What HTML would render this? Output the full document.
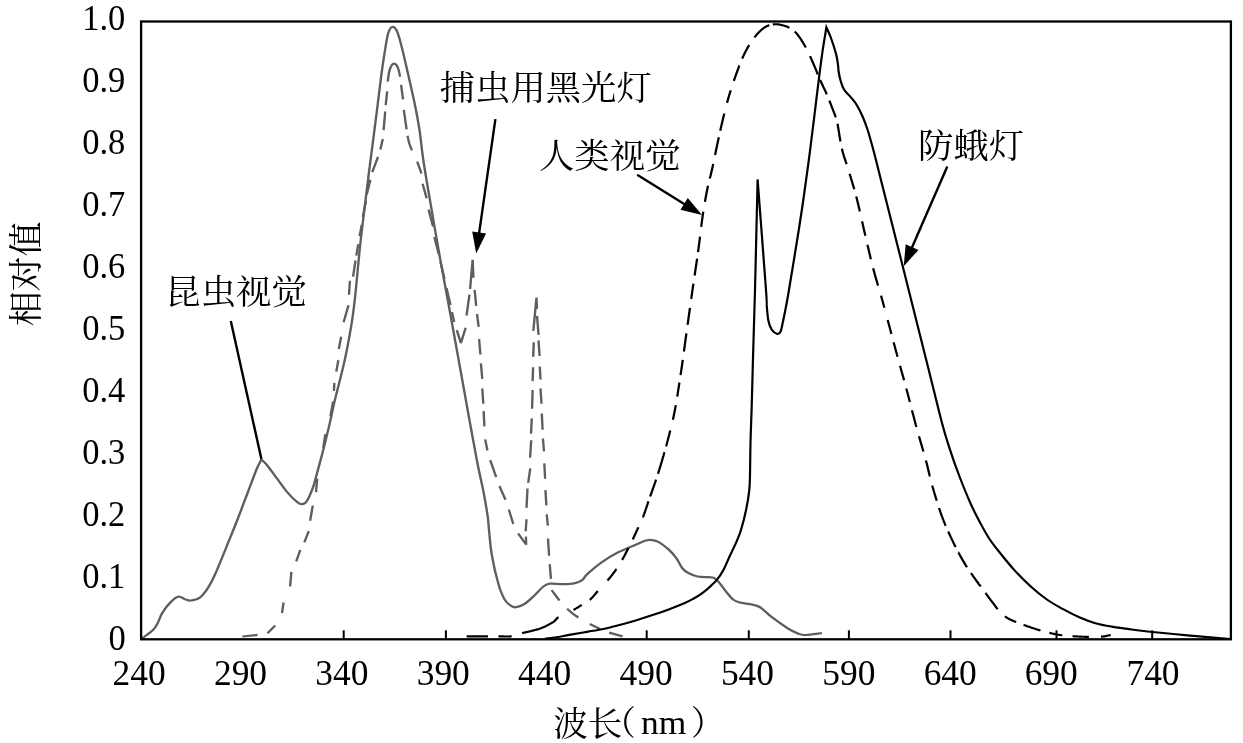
<!DOCTYPE html>
<html lang="zh-CN">
<head>
<meta charset="utf-8">
<title>相对值 - 波长(nm)</title>
<style>
html,body{margin:0;padding:0;background:#fff;}
body{width:1243px;height:743px;overflow:hidden;}
svg{display:block;}
</style>
</head>
<body>
<svg width="1243" height="743" viewBox="0 0 1243 743">
<rect x="0" y="0" width="1243" height="743" fill="#fff"/>
<g fill="none" stroke-linejoin="miter" stroke-miterlimit="10" transform="scale(1.05,1)">
<path d="M134.57,638.8C135.32,638.3 137.59,636.7 139.05,635.6C140.51,634.5 141.98,633.4 143.33,632.2C144.68,631.0 145.95,629.9 147.14,628.3C148.33,626.7 149.24,625.1 150.48,622.5C151.71,619.9 152.60,616.2 154.57,612.9C156.54,609.5 159.71,605.1 162.29,602.4C164.86,599.7 167.70,597.2 170.00,596.7C172.30,596.2 174.17,598.6 176.10,599.2C178.02,599.8 179.21,600.7 181.52,600.5C183.84,600.3 187.32,599.9 190.00,597.9C192.68,595.9 195.06,592.8 197.62,588.7C200.17,584.6 202.25,580.4 205.33,573.3C208.41,566.1 212.65,554.7 216.10,545.8C219.54,536.9 222.57,529.2 226.00,520.0C229.43,510.8 233.62,498.9 236.67,490.5C239.71,482.1 242.24,474.7 244.29,469.5C246.33,464.3 248.17,461.2 248.95,459.5C249.98,460.6 252.59,462.9 255.14,466.2C257.70,469.5 261.22,474.9 264.29,479.2C267.35,483.5 270.44,488.3 273.52,492.1C276.60,495.9 280.32,499.8 282.76,501.8C285.21,503.8 286.52,504.5 288.19,504.2C289.86,503.9 291.10,503.0 292.76,500.2C294.43,497.4 296.78,491.2 298.19,487.2C299.60,483.1 299.70,481.8 301.24,475.9C302.78,470.0 305.38,460.0 307.43,451.7C309.48,443.4 311.60,434.4 313.52,425.8C315.44,417.2 316.51,410.8 318.95,400.0C321.40,389.2 325.62,373.0 328.19,360.8C330.76,348.6 332.87,336.0 334.38,326.8C335.89,317.6 336.48,311.8 337.24,305.5C338.00,299.2 337.95,299.4 338.95,289.0C339.95,278.6 341.76,257.3 343.24,243.0C344.71,228.7 346.44,214.8 347.81,203.0C349.17,191.2 350.29,181.5 351.43,172.0C352.57,162.5 353.37,156.6 354.67,146.0C355.97,135.4 357.84,120.0 359.24,108.3C360.63,96.6 361.90,85.0 363.05,76.0C364.19,67.0 365.02,61.0 366.10,54.0C367.17,47.0 368.30,38.5 369.52,34.0C370.75,29.5 372.02,27.5 373.43,27.0C374.84,26.5 376.46,27.6 378.00,31.0C379.54,34.4 380.87,39.9 382.67,47.2C384.46,54.5 386.71,65.2 388.76,74.6C390.81,84.0 393.16,94.5 394.95,103.7C396.75,112.9 398.11,120.3 399.52,130.0C400.94,139.7 401.56,149.0 403.43,162.0C405.30,175.0 408.16,192.0 410.76,208.0C413.37,224.0 416.32,242.0 419.05,258.0C421.78,274.0 424.52,289.0 427.14,304.0C429.76,319.0 432.06,332.3 434.76,348.0C437.46,363.7 440.11,379.3 443.33,398.0C446.56,416.7 451.22,444.3 454.10,460.0C456.97,475.7 458.84,482.9 460.57,492.3C462.30,501.7 463.62,510.2 464.48,516.5C465.33,522.8 465.08,523.7 465.71,530.0C466.35,536.3 466.83,545.3 468.29,554.2C469.75,563.1 472.43,575.8 474.48,583.3C476.52,590.8 478.52,595.7 480.57,599.5C482.62,603.3 484.97,604.6 486.76,605.9C488.56,607.2 489.29,607.5 491.33,607.2C493.38,606.9 496.22,606.1 499.05,604.3C501.87,602.5 505.21,599.2 508.29,596.2C511.37,593.2 514.95,588.6 517.52,586.5C520.10,584.4 520.63,584.0 523.71,583.6C526.79,583.2 532.16,584.2 536.00,584.1C539.84,584.0 543.68,584.0 546.76,583.3C549.84,582.6 552.43,581.6 554.48,580.1C556.52,578.6 555.97,577.4 559.05,574.4C562.13,571.4 568.08,565.9 572.95,562.3C577.83,558.7 582.79,555.6 588.29,552.6C593.78,549.6 601.44,546.5 605.90,544.5C610.37,542.5 612.62,541.2 615.05,540.5C617.48,539.8 618.41,539.7 620.48,540.0C622.54,540.3 624.73,540.5 627.43,542.1C630.13,543.7 633.86,546.7 636.67,549.4C639.48,552.1 642.11,555.2 644.29,558.3C646.46,561.4 647.90,565.6 649.71,568.0C651.52,570.4 652.71,571.4 655.14,572.8C657.57,574.2 660.95,575.8 664.29,576.5C667.62,577.2 672.57,577.0 675.14,577.2C677.71,577.4 678.19,577.0 679.71,577.7C681.24,578.5 682.24,579.3 684.29,581.7C686.33,584.1 689.68,589.2 692.00,592.2C694.32,595.2 696.14,597.8 698.19,599.5C700.24,601.2 701.21,601.5 704.29,602.4C707.37,603.2 713.33,603.8 716.67,604.6C720.00,605.5 721.21,605.4 724.29,607.5C727.37,609.6 730.78,613.7 735.14,617.2C739.51,620.7 746.38,625.8 750.48,628.5C754.57,631.2 756.89,632.3 759.71,633.4C762.54,634.5 763.57,635.1 767.43,635.0C771.29,634.9 780.29,633.3 782.86,633.0" stroke="#5e5e5e" stroke-width="2.25"/>
<path d="M230.86,636.5L245.24,634.9 M254.76,633.2L262.10,625.5 M268.57,613.0L270.10,602.5 M276.29,586.4L277.52,571.8 M282.10,561.3L286.00,550.0 M289.81,542.4L294.10,531.1 M295.33,520.7L297.90,505.6 M300.95,492.1L302.10,478.7 M307.90,448.0L309.81,434.2 M314.67,416.5L317.24,401.5 M318.00,391.0L318.48,382.9 M320.29,371.6L322.19,360.3 M322.67,349.0L324.95,336.8 M327.24,322.3L331.90,305.3 M332.38,294.8L333.24,280.7 M336.29,276.6L338.57,260.5 M339.33,255.6L341.24,244.3 M342.48,236.2L344.48,224.9 M345.52,216.9L348.57,200.7 M349.33,194.2L352.76,179.7 M354.57,172.1L360.00,156.8 M362.29,149.5L364.57,139.0 M365.33,130.1L366.86,111.5 M367.33,105.1L368.76,91.3 M369.24,81.7C369.49,80.0 370.13,74.0 370.76,71.2C371.40,68.5 372.29,66.5 373.05,65.2C373.81,63.9 374.57,63.6 375.33,63.6C376.10,63.6 376.92,64.2 377.62,65.2C378.32,66.2 378.95,67.6 379.52,69.5C380.10,71.4 380.79,75.6 381.05,76.8 M382.00,84.9L383.81,99.4 M384.57,109.9L387.24,129.3 M388.10,135.8C388.38,137.1 389.11,141.1 389.81,143.5C390.51,145.9 391.87,149.2 392.29,150.3 M397.33,161.6L401.43,173.5 M402.48,183.7L406.29,198.3 M408.19,209.6L412.48,226.5 M413.71,237.0L417.81,254.0 M419.52,262.0L423.33,279.0 M425.24,288.0L429.05,305.0 M430.48,312.0L432.57,322.0 M435.05,330.2L438.95,343.1 M438.95,343.1L443.52,327.7 M444.29,315.6L447.14,294.6 M447.71,289.0L450.10,259.8 M450.10,259.8L450.95,277.7 M452.00,289.8L453.52,305.9 M454.29,314.0L455.90,326.9 M456.29,339.0L457.52,354.5 M458.00,363.4L459.33,378.8 M459.33,388.5L460.29,403.8 M460.57,411.1L461.33,426.4 M462.10,439.4L464.19,450.5 M466.86,460.2L472.57,477.2 M475.62,486.0L481.43,499.8 M484.57,509.5L488.86,524.0 M493.43,533.4L501.14,544.7 M501.14,544.7L500.86,536.6 M500.67,531.3L501.43,519.2 M501.43,507.9L502.38,488.5 M503.05,482.8L505.05,468.3 M504.86,457.7L505.90,440.2 M505.71,433.7L506.48,418.4 M506.76,408.7L507.24,390.0 M507.24,381.1L507.71,367.3 M507.81,356.8L508.38,342.3 M507.90,330.9L510.95,297.6 M510.95,297.6L511.33,309.0 M511.43,315.9L512.95,334.9 M512.86,340.4L513.90,356.0 M514.10,366.5L514.76,379.5 M514.76,388.4L515.71,403.8 M516.00,413.5L516.76,429.7 M517.05,438.5L518.10,451.4 M518.38,463.4L519.14,478.8 M519.43,490.1L520.38,505.4 M520.67,514.3L521.81,525.6 M521.90,538.5L522.95,555.8 M523.52,564.2L524.76,578.8 M525.33,590.1L532.86,600.5 M540.10,608.7C540.95,609.5 543.44,611.8 545.24,613.3C547.03,614.8 549.92,616.8 550.86,617.5 M561.62,624.0L571.62,628.9 M580.10,632.6L592.86,636.4" stroke="#5e5e5e" stroke-width="2.25"/>
<path d="M444.48,636.3L444.93,636.3L445.47,636.3L446.08,636.3L446.76,636.3L447.50,636.3L448.29,636.3L449.12,636.3L450.00,636.3L450.92,636.3L451.86,636.3L452.82,636.3L453.80,636.3L454.79,636.3L455.79,636.3L456.77,636.3L457.75,636.3L458.72,636.3L459.66,636.3L460.57,636.3L461.45,636.3L462.28,636.3L463.07,636.3L463.80,636.3L464.48,636.3L464.76,636.3 M474.76,636.3L474.78,636.3L475.24,636.3L475.70,636.3L476.17,636.3L476.65,636.3L477.12,636.3L477.60,636.4L478.08,636.4L478.57,636.4L479.05,636.4L479.54,636.4L480.02,636.5L480.51,636.5L481.00,636.5L481.49,636.5L481.98,636.5L482.46,636.5L482.95,636.5L483.43,636.5L483.92,636.5L484.40,636.5L484.88,636.5L485.35,636.5L485.83,636.4L486.30,636.4L486.76,636.3L487.22,636.2L487.33,636.2 M497.33,633.2L497.52,633.1L498.12,632.9L498.73,632.8L499.38,632.6L500.04,632.4L500.73,632.3L501.44,632.1L502.16,631.9L502.89,631.7L503.63,631.6L504.38,631.4L505.14,631.2L505.90,631.0L506.67,630.8L507.43,630.6L508.19,630.4L508.94,630.2L509.69,630.0L510.42,629.8L511.14,629.6L511.85,629.4L512.54,629.2L513.21,629.0L513.85,628.7L514.48,628.5L515.08,628.3L515.69,628.0L516.28,627.8L516.87,627.5L517.46,627.3L518.04,627.0L518.61,626.7L519.17,626.4L519.73,626.2L520.28,625.9L520.82,625.6L521.35,625.3L521.86,625.0L522.37,624.8L522.87,624.5L523.35,624.2L523.83,623.9L524.29,623.6L524.74,623.4L525.17,623.1L525.59,622.8L526.00,622.6L526.39,622.3L526.76,622.1L527.11,621.9L527.42,621.6L527.70,621.4L527.95,621.2L528.18,621.0L528.38,620.8L528.57,620.6L528.74,620.4L528.89,620.3L529.04,620.1L529.19,619.9L529.33,619.7L529.47,619.5L529.62,619.3L529.77,619.1L529.94,618.9L530.12,618.8L530.32,618.6L530.54,618.3L530.79,618.1L531.07,617.9L531.37,617.7L531.71,617.4L532.00,617.3 M546.29,609.8L546.44,609.8L546.86,609.5L547.26,609.3L547.64,609.1L548.00,608.8L548.35,608.6L548.68,608.4L549.01,608.2L549.32,608.0L549.62,607.8L549.91,607.6L550.20,607.5L550.49,607.3L550.77,607.1L551.04,606.9L551.32,606.7L551.60,606.5L551.88,606.3L552.17,606.1L552.46,605.9L552.76,605.7L553.07,605.5L553.39,605.3L553.71,605.1L554.00,604.9 M561.62,599.9L561.77,599.8L562.10,599.5L562.41,599.2L562.72,598.9L563.02,598.6L563.31,598.3L563.60,598.0L563.88,597.7L564.16,597.4L564.43,597.1L564.71,596.8L564.98,596.4L565.25,596.1L565.52,595.8L565.79,595.4L566.06,595.1L566.34,594.7L566.61,594.4L566.90,594.0L567.18,593.7L567.47,593.3L567.77,592.9L568.08,592.5L568.39,592.2L568.72,591.8L569.05,591.4L569.33,591.1 M578.57,580.5L578.66,580.4L579.03,580.0L579.40,579.5L579.78,579.0L580.16,578.6L580.53,578.1L580.91,577.6L581.28,577.1L581.66,576.6L582.03,576.1L582.40,575.6L582.77,575.1L583.13,574.7L583.49,574.2L583.85,573.7L584.20,573.2L584.54,572.7L584.88,572.3L585.21,571.8L585.54,571.4L585.86,570.9L586.17,570.5L586.47,570.0L586.76,569.6L587.04,569.2L587.05,569.2 M592.48,560.0L592.59,559.8L592.84,559.3L593.10,558.8L593.36,558.3L593.62,557.8L593.89,557.3L594.16,556.8L594.43,556.3L594.70,555.8L594.97,555.2L595.24,554.7L595.51,554.2L595.78,553.6L596.05,553.1L596.31,552.6L596.57,552.0L596.83,551.5L597.09,551.0L597.34,550.5L597.58,550.0L597.82,549.5L598.06,549.1L598.29,548.6L598.51,548.1L598.57,548.0 M602.63,539.4L602.68,539.3L602.86,538.9L603.03,538.5L603.20,538.1L603.37,537.8L603.53,537.4L603.69,537.0L603.85,536.7L604.00,536.3L604.16,536.0L604.31,535.6L604.46,535.3L604.62,534.9L604.77,534.6L604.92,534.2L605.07,533.9L605.23,533.5L605.39,533.2L605.55,532.8L605.71,532.4L605.87,532.0L606.04,531.6L606.21,531.2L606.39,530.8L606.57,530.4L606.76,530.0L606.95,529.6L607.15,529.1L607.34,528.7L607.54,528.3L607.74,527.9L607.94,527.5L608.07,527.2 M612.26,517.5L612.52,516.8L612.79,516.0L613.06,515.2L613.34,514.4L613.62,513.6L613.90,512.7L614.19,511.9L614.48,511.0L614.78,510.1L615.07,509.2L615.37,508.3L615.67,507.3L615.97,506.4L616.27,505.5L616.57,504.5L616.87,503.6L617.17,502.7L617.47,501.7L617.58,501.4 M619.18,496.5L619.24,496.3L619.53,495.4L619.83,494.6L620.12,493.7L620.42,492.8L620.71,491.9L621.01,491.1L621.30,490.2L621.60,489.3L621.89,488.4L622.19,487.6L622.48,486.7L622.78,485.8L623.07,484.9L623.36,484.1L623.65,483.2L623.94,482.3L624.23,481.5L624.51,480.6L624.80,479.7L624.83,479.6 M626.61,473.9L626.71,473.6L626.98,472.7L627.24,471.8L627.50,470.9L627.77,470.1L628.02,469.2L628.28,468.3L628.54,467.4L628.79,466.6L629.05,465.7L629.30,464.8L629.55,463.9L629.80,463.1L630.05,462.2L630.30,461.3L630.54,460.5L630.79,459.6L631.03,458.7L631.28,457.8L631.52,456.9L631.76,456.1L632.00,455.2L632.24,454.3L632.48,453.5L632.71,452.6L632.85,452.1 M634.37,446.4L634.54,445.8L634.76,444.9L634.98,444.0L635.21,443.2L635.43,442.3L635.65,441.4L635.87,440.6L636.09,439.7L636.32,438.8L636.54,437.9L636.76,437.0L636.98,436.1L637.20,435.1L637.43,434.2L637.65,433.3L637.87,432.3L638.10,431.4L638.32,430.5L638.32,430.5 M640.85,419.7L640.94,419.3L641.16,418.3L641.38,417.2L641.61,416.1L641.84,414.9L642.06,413.8L642.29,412.6L642.53,411.3L642.76,410.0L643.00,408.7L643.24,407.3L643.48,405.8L643.61,405.1 M644.97,396.6L644.99,396.5L645.25,394.8L645.51,393.1L645.76,391.4L646.02,389.7L646.28,388.0L646.53,386.2L646.79,384.5L647.04,382.8L647.08,382.5 M648.13,375.2L648.28,374.2L648.52,372.5L648.76,370.8L649.00,369.1L649.23,367.5L649.46,365.8L649.69,364.1L649.91,362.5L650.14,360.8L650.27,359.8 M651.36,351.5L651.46,350.7L651.68,349.0L651.90,347.3L652.12,345.6L652.34,343.9L652.55,342.2L652.77,340.5L652.99,338.8L653.21,337.1L653.43,335.5L653.65,333.8L653.70,333.4 M654.84,324.8L654.99,323.7L655.22,322.0L655.45,320.3L655.67,318.6L655.90,316.9L656.12,315.2L656.35,313.5L656.58,311.8L656.80,310.1L657.03,308.4L657.10,307.9 M658.30,299.0L658.39,298.3L658.62,296.7L658.84,295.0L659.07,293.3L659.30,291.7L659.52,290.0L659.75,288.3L659.98,286.7L660.21,285.0L660.41,283.6 M661.54,275.5L661.60,275.1L661.83,273.5L662.06,271.8L662.29,270.2L662.52,268.6L662.75,266.9L662.98,265.3L663.21,263.7L663.43,262.1L663.66,260.4L663.88,258.8L663.91,258.6 M664.78,252.1L664.95,250.8L665.16,249.2L665.36,247.6L665.56,246.0L665.76,244.4L665.96,242.8L666.15,241.1L666.35,239.5L666.54,237.9L666.69,236.6 M667.82,226.9L667.84,226.7L668.02,225.2L668.21,223.7L668.39,222.2L668.58,220.7L668.77,219.2L668.95,217.8L669.14,216.4L669.33,215.0L669.52,213.6L669.72,212.3L669.81,211.6 M671.34,201.9L671.50,200.9L671.71,199.7L671.90,198.6L672.10,197.4L672.30,196.3L672.50,195.2L672.69,194.1L672.89,193.1L673.08,192.0L673.27,191.0L673.46,190.0L673.65,189.0L673.83,188.1L674.01,187.1L674.19,186.2L674.29,185.7 M675.98,178.5L676.01,178.4L676.15,177.9L676.30,177.3L676.44,176.7L676.60,176.1L676.77,175.5L676.94,174.7L677.13,173.9L677.32,173.1L677.54,172.1L677.76,171.1L678.00,170.0L678.26,168.8L678.53,167.5L678.81,166.1L679.11,164.6L679.25,163.9 M681.03,155.0L681.13,154.5L681.49,152.7L681.85,150.8L682.22,149.0L682.59,147.1L682.95,145.3L683.32,143.4L683.69,141.6L684.05,139.8L684.41,138.1L684.56,137.3 M685.92,130.8L686.10,130.0L686.41,128.6L686.71,127.2L687.02,125.8L687.32,124.4L687.62,123.1L687.92,121.7L688.21,120.4L688.50,119.1L688.79,117.9L689.08,116.6L689.36,115.4L689.65,114.2L689.83,113.4 M692.42,102.9L692.48,102.7L692.76,101.6L693.05,100.5L693.33,99.4L693.62,98.4L693.90,97.3L694.19,96.3L694.47,95.3L694.75,94.3L695.03,93.3L695.31,92.4L695.59,91.4L695.87,90.5L695.95,90.2 M698.88,80.9L699.01,80.5L699.30,79.6L699.60,78.7L699.90,77.8L700.21,76.9L700.52,76.0L700.83,75.0L701.15,74.1L701.47,73.2L701.79,72.3L702.11,71.3L702.43,70.4L702.76,69.5L703.09,68.6L703.42,67.7L703.74,66.7L704.07,65.8L704.09,65.8 M706.87,58.6L706.99,58.3L707.31,57.5L707.62,56.8L707.93,56.1L708.23,55.4L708.54,54.7L708.84,54.0L709.14,53.4L709.44,52.8L709.74,52.1L710.04,51.5L710.33,50.9L710.63,50.3L710.92,49.8L711.21,49.2L711.51,48.7L711.80,48.1L712.09,47.6L712.39,47.1L712.68,46.5L712.98,46.0L713.27,45.5L713.57,45.0 M718.48,37.4L718.72,37.1L719.02,36.7L719.33,36.3L719.64,35.9L719.94,35.5L720.25,35.2L720.56,34.8L720.87,34.4L721.17,34.1L721.48,33.7L721.79,33.3L722.10,33.0L722.40,32.7L722.71,32.3L723.01,32.0L723.32,31.7L723.63,31.4L723.93,31.1L724.23,30.7L724.54,30.5L724.84,30.2L725.15,29.9L725.46,29.6L725.76,29.3L726.07,29.1L726.38,28.8L726.69,28.5L726.99,28.3L727.31,28.1L727.62,27.8L727.93,27.6L728.25,27.4L728.56,27.2L728.88,27.0L729.20,26.8L729.52,26.6L729.85,26.4L730.18,26.2L730.50,26.1L730.83,25.9L731.17,25.8L731.50,25.6L731.84,25.5L732.17,25.4L732.51,25.2L732.67,25.2 M736.00,24.4L736.26,24.3L736.60,24.3L736.94,24.3L737.28,24.2L737.62,24.2L737.96,24.2L738.30,24.2L738.64,24.2L738.98,24.2L739.33,24.2L739.68,24.2L740.02,24.2L740.37,24.3L740.72,24.3L741.06,24.4L741.41,24.4L741.76,24.5L742.10,24.5L742.44,24.6L742.78,24.7L743.12,24.7L743.46,24.8L743.79,24.9L744.12,25.0L744.45,25.1L744.77,25.1L745.09,25.2L745.40,25.3L745.71,25.4L746.02,25.5L746.32,25.6L746.61,25.7L746.91,25.7L747.19,25.8L747.48,25.9L747.76,26.0L748.04,26.1L748.31,26.2L748.58,26.3L748.86,26.4L749.12,26.5L749.39,26.6L749.66,26.7L749.93,26.8L750.20,27.0L750.47,27.1L750.73,27.2L751.00,27.4L751.28,27.5L751.55,27.7L751.81,27.8 M756.86,31.5L757.10,31.8L757.39,32.0L757.69,32.4L757.99,32.7L758.29,33.0L758.60,33.4L758.92,33.8L759.24,34.2L759.57,34.6L759.90,35.1L760.24,35.6L760.59,36.1L760.95,36.6L761.31,37.1L761.67,37.7L762.04,38.2L762.41,38.8L762.79,39.4L763.16,40.0L763.54,40.6L763.92,41.3L764.30,41.9L764.67,42.5L765.05,43.2L765.42,43.8L765.79,44.5L766.16,45.1L766.52,45.8L766.87,46.4L767.22,47.1L767.43,47.5 M771.46,56.1L771.73,56.7L772.03,57.4L772.33,58.2L772.63,58.9L772.93,59.6L773.22,60.3L773.52,61.0L773.81,61.7L774.10,62.4L774.39,63.1L774.67,63.8L774.96,64.5L775.24,65.2L775.52,65.9L775.79,66.5L776.07,67.2L776.34,67.9L776.60,68.5L776.87,69.2L777.13,69.9L777.39,70.5L777.64,71.2L777.90,71.8L778.15,72.5L778.40,73.1L778.66,73.8L778.91,74.4L778.95,74.5 M781.06,79.8L781.17,80.1L781.43,80.7L781.69,81.3L781.94,81.9L782.19,82.5L782.44,83.1L782.69,83.6L782.94,84.2L783.18,84.7L783.43,85.3L783.67,85.8L783.92,86.4L784.17,86.9L784.42,87.5L784.67,88.0L784.92,88.6L785.17,89.1L785.43,89.7L785.69,90.3L785.95,90.9L786.22,91.5L786.49,92.1L786.76,92.8L787.04,93.5L787.33,94.2L787.42,94.4 M789.87,100.7L789.98,101.0L790.35,101.9L790.72,102.9L791.09,103.9L791.46,104.9L791.83,105.9L792.20,106.9L792.56,107.8L792.92,108.8L793.26,109.7L793.60,110.7L793.92,111.5L794.23,112.4L794.53,113.2L794.81,114.0L795.07,114.7L795.31,115.4L795.52,116.0L795.72,116.6L795.89,117.0L795.99,117.3 M797.62,123.7L797.66,123.9L797.80,124.7L797.95,125.6L798.10,126.5L798.25,127.5L798.41,128.5L798.57,129.5L798.74,130.6L798.91,131.8L799.09,132.9L799.27,134.1L799.45,135.3L799.64,136.5L799.83,137.7L800.02,138.9L800.22,140.1L800.42,141.3L800.45,141.5 M801.84,148.8L801.90,149.1L802.13,150.1L802.35,151.0L802.58,151.9L802.82,152.8L803.05,153.7L803.29,154.5L803.53,155.4L803.78,156.2L804.03,157.1L804.28,157.9L804.54,158.7L804.80,159.5L805.06,160.3L805.32,161.1L805.59,162.0L805.86,162.8L806.13,163.7L806.27,164.1 M809.16,173.8L809.28,174.2L809.59,175.3L809.90,176.3L810.21,177.4L810.53,178.5L810.85,179.6L811.17,180.7L811.49,181.8L811.82,183.0L812.14,184.1L812.47,185.3L812.79,186.4L813.12,187.6L813.45,188.8L813.56,189.2 M815.44,196.4L815.71,197.5L816.03,198.8L816.35,200.1L816.66,201.5L816.98,202.8L817.29,204.2L817.60,205.6L817.91,207.0L818.23,208.4L818.54,209.8L818.85,211.3L818.90,211.5 M821.02,221.4L821.06,221.6L821.38,223.0L821.70,224.5L822.02,226.0L822.34,227.5L822.67,229.0L823.00,230.5L823.33,232.0L823.67,233.5L824.00,235.0L824.18,235.8 M826.15,244.7L826.38,245.8L826.73,247.3L827.07,248.9L827.42,250.4L827.77,252.0L828.12,253.6L828.48,255.1L828.83,256.7L829.18,258.2L829.44,259.3 M831.57,268.2L831.71,268.8L832.08,270.3L832.45,271.7L832.81,273.1L833.17,274.5L833.53,275.8L833.90,277.2L834.26,278.5L834.62,279.8L834.99,281.1L835.36,282.5L835.73,283.8L836.10,285.1L836.24,285.6 M839.04,295.6L839.24,296.3L839.66,297.8L840.08,299.4L840.51,301.0L840.95,302.7L841.40,304.4L841.87,306.2L842.26,307.7 M845.41,320.0L845.87,321.8L846.39,323.9L846.92,325.9L847.44,328.0L847.97,330.1L848.50,332.2L848.93,333.9 M851.07,342.3L851.09,342.4L851.59,344.3L852.08,346.3L852.57,348.2L853.05,350.0L853.52,351.8L853.99,353.6L854.45,355.4L854.82,356.8 M857.16,365.7L857.18,365.8L857.63,367.5L858.07,369.2L858.51,370.8L858.95,372.5L859.39,374.1L859.82,375.8L860.25,377.4L860.68,379.1L861.00,380.3 M863.11,388.4L863.21,388.8L863.62,390.4L864.03,392.0L864.44,393.6L864.84,395.2L865.24,396.8L865.64,398.4L866.03,400.0L866.42,401.6L866.55,402.1 M868.53,410.2L868.72,411.0L869.10,412.5L869.48,414.1L869.86,415.6L870.23,417.1L870.61,418.6L870.98,420.1L871.35,421.6L871.73,423.1L872.10,424.6L872.48,426.0L872.73,427.0 M875.19,436.2L875.55,437.5L875.94,438.9L876.32,440.3L876.71,441.7L877.09,443.1L877.48,444.5L877.86,445.8L878.23,447.2L878.60,448.5L878.97,449.8L879.34,451.1L879.43,451.5 M881.82,460.4L882.02,461.2L882.31,462.4L882.59,463.5L882.87,464.6L883.13,465.7L883.38,466.8L883.62,467.9L883.86,468.9L884.10,470.0L884.33,471.0L884.56,472.0L884.79,473.0L885.01,474.0L885.24,475.0L885.48,476.1L885.58,476.5 M887.80,485.4L887.90,485.8L888.23,487.0L888.56,488.2L888.90,489.4L889.25,490.7L889.60,492.0L889.96,493.2L890.33,494.5L890.70,495.8L891.08,497.2L891.46,498.5L891.85,499.8L892.14,500.8 M894.32,508.0L894.65,509.0L895.07,510.3L895.48,511.6L895.89,512.9L896.31,514.1L896.73,515.3L897.14,516.5L897.56,517.7L897.99,518.8L898.42,520.0L898.85,521.2L899.29,522.3L899.73,523.4L900.17,524.6L900.62,525.7L900.67,525.8 M903.04,531.5L903.34,532.2L903.80,533.3L904.26,534.3L904.72,535.3L905.18,536.4L905.64,537.4L906.09,538.4L906.55,539.4L907.00,540.4L907.46,541.4L907.90,542.4L908.35,543.4L908.80,544.3L909.25,545.3L909.70,546.2L910.07,547.0 M912.83,552.6L912.84,552.6L913.29,553.5L913.73,554.3L914.18,555.2L914.63,556.1L915.08,556.9L915.53,557.7L915.98,558.6L916.42,559.4L916.87,560.2L917.32,561.0L917.77,561.8L918.22,562.6L918.67,563.4L919.12,564.2L919.58,565.0L920.05,565.8L920.53,566.5L920.94,567.2 M924.76,573.1L924.91,573.3L925.38,574.0L925.85,574.7L926.30,575.4L926.74,576.0L927.17,576.7L927.59,577.3L927.99,577.9L928.38,578.4L928.75,579.0L929.10,579.5L929.43,580.0L929.73,580.5L929.99,580.8L930.22,581.2L930.41,581.5L930.59,581.7L930.73,582.0L930.86,582.1L930.98,582.3L931.09,582.5L931.18,582.6L931.28,582.7L931.38,582.9L931.48,583.0L931.59,583.2L931.71,583.3L931.84,583.5L932.00,583.7L932.19,584.0L932.40,584.3L932.64,584.6L932.91,585.0L933.23,585.4L933.59,585.9L934.00,586.5 M938.57,593.0L938.88,593.4L939.63,594.5L940.39,595.6L941.17,596.7L941.95,597.8L942.74,598.9L943.52,600.0L944.29,601.1L945.05,602.2L945.80,603.2L946.53,604.2L947.23,605.2L947.90,606.1L948.53,607.0L949.13,607.8L949.68,608.5L950.19,609.2 M957.05,616.4L957.05,616.4L957.41,616.7L957.77,616.9L958.12,617.2L958.47,617.4L958.82,617.6L959.17,617.9L959.53,618.1L959.89,618.3L960.25,618.5L960.63,618.7L961.01,619.0L961.41,619.2L961.82,619.4L962.25,619.6L962.70,619.8L963.16,620.1L963.65,620.3L964.16,620.5L964.69,620.8L965.25,621.0L965.85,621.3L966.47,621.5L967.12,621.8L967.81,622.1 M974.76,624.9L975.69,625.2L976.70,625.6L977.72,626.0L978.76,626.4L979.80,626.7L980.85,627.1L981.90,627.5L982.96,627.9L984.00,628.2L985.04,628.6L986.07,628.9L987.09,629.3L988.09,629.6L989.07,629.9L990.02,630.2L990.95,630.5 M999.43,632.9L999.54,632.9L1000.37,633.1L1001.20,633.3L1002.03,633.5L1002.86,633.7L1003.70,633.9L1004.54,634.1L1005.40,634.2L1006.26,634.4L1007.13,634.6L1008.02,634.7L1008.92,634.9L1009.83,635.0L1010.76,635.2L1011.71,635.3 M1021.43,636.2L1021.45,636.2L1022.60,636.3L1023.75,636.4L1024.90,636.4L1026.05,636.5L1027.18,636.5L1028.30,636.6L1029.39,636.6L1030.47,636.7L1031.52,636.7L1032.54,636.7L1033.52,636.8L1034.47,636.8L1035.38,636.8L1036.24,636.9L1037.05,636.9 M1048.57,636.7L1048.58,636.7L1049.00,636.6L1049.43,636.6L1049.86,636.6L1050.29,636.5L1050.72,636.5L1051.15,636.4L1051.58,636.3L1052.00,636.3L1052.42,636.2L1052.83,636.1L1053.23,636.0L1053.63,635.9L1054.02,635.9L1054.39,635.8L1054.76,635.7L1055.11,635.6L1055.46,635.5L1055.78,635.5L1056.10,635.4L1056.40,635.3L1056.68,635.3L1056.94,635.2L1057.19,635.1L1057.42,635.1L1057.62,635.0L1057.81,635.0" stroke="#000" stroke-width="2.15"/>
<path d="M518.86,638.9C520.65,638.6 525.27,638.0 529.62,637.3C533.97,636.5 539.84,635.3 544.95,634.4C550.06,633.5 555.17,632.5 560.29,631.6C565.40,630.7 570.51,629.9 575.62,628.7C580.73,627.6 585.86,626.1 590.95,624.7C596.05,623.3 601.10,621.8 606.19,620.2C611.29,618.6 616.41,616.9 621.52,615.1C626.63,613.3 631.75,611.4 636.86,609.4C641.97,607.4 648.35,604.7 652.19,603.0C656.03,601.3 657.35,600.5 659.90,599.0C662.46,597.5 664.98,596.0 667.52,594.1C670.06,592.2 672.59,590.1 675.14,587.7C677.70,585.3 680.56,582.7 682.86,579.7C685.16,576.8 686.90,574.0 688.95,570.0C691.00,566.0 693.10,560.4 695.14,555.8C697.19,551.1 699.48,546.4 701.24,542.1C703.00,537.8 704.17,535.3 705.71,530.0C707.25,524.7 709.17,516.7 710.48,510.2C711.78,503.7 712.89,496.7 713.52,490.8C714.16,484.9 714.08,482.7 714.29,474.6C714.49,466.5 714.51,453.1 714.76,442.3C715.02,431.5 715.40,424.6 715.81,410.0C716.22,395.4 716.70,374.6 717.24,354.6C717.78,334.6 718.33,319.2 719.05,290.0C719.76,260.8 721.11,197.8 721.52,179.4C722.86,197.8 728.06,268.9 729.52,290.0C730.98,311.1 729.90,301.1 730.29,306.2C730.67,311.3 731.03,316.8 731.81,320.7C732.59,324.6 733.54,327.4 734.95,329.6C736.37,331.8 738.87,333.6 740.29,333.9C741.70,334.2 742.49,333.7 743.43,331.5C744.37,329.3 745.00,324.9 745.90,320.5C746.81,316.1 747.89,310.4 748.86,305.0C749.83,299.6 749.83,299.9 751.71,288.0C753.60,276.1 757.97,248.2 760.19,233.5C762.41,218.8 763.22,213.4 765.05,200.0C766.87,186.6 769.17,169.2 771.14,153.3C773.11,137.4 774.94,121.0 776.86,104.8C778.78,88.6 780.97,69.2 782.67,56.3C784.37,43.4 786.32,32.2 787.05,27.4C787.75,29.1 789.71,33.1 791.24,37.5C792.76,41.9 795.06,49.4 796.19,53.8C797.32,58.2 797.57,61.0 798.00,64.0C798.43,67.0 798.33,69.2 798.76,72.0C799.19,74.8 799.70,77.7 800.57,80.7C801.44,83.7 802.43,87.1 804.00,89.8C805.57,92.5 807.98,94.2 810.00,96.8C812.02,99.4 814.14,101.8 816.10,105.2C818.05,108.6 820.03,113.0 821.71,117.0C823.40,121.0 824.79,125.1 826.19,129.5C827.59,133.9 828.81,138.7 830.10,143.5C831.38,148.3 831.86,150.1 833.90,158.5C835.95,166.9 839.52,182.1 842.38,194.0C845.24,205.9 846.41,210.7 851.05,230.0C855.68,249.3 864.75,287.2 870.19,310.0C875.63,332.8 879.22,347.7 883.71,366.5C888.21,385.3 893.67,409.2 897.14,423.0C900.62,436.8 901.79,440.2 904.57,449.1C907.35,458.0 910.48,467.4 913.81,476.5C917.14,485.6 921.24,496.2 924.57,504.0C927.90,511.8 930.92,517.7 933.81,523.4C936.70,529.1 939.05,533.6 941.90,538.2C944.76,542.8 946.89,545.6 950.95,551.0C955.02,556.4 961.16,564.5 966.29,570.4C971.41,576.3 976.59,581.6 981.71,586.5C986.84,591.4 991.92,595.7 997.05,599.5C1002.17,603.3 1007.35,606.2 1012.48,609.2C1017.60,612.2 1022.68,614.9 1027.81,617.2C1032.94,619.5 1038.10,621.6 1043.24,623.2C1048.38,624.8 1053.54,625.7 1058.67,626.6C1063.79,627.5 1067.90,628.0 1074.00,628.9C1080.10,629.8 1085.35,630.7 1095.24,631.8C1105.13,632.9 1120.63,634.4 1133.33,635.6C1146.03,636.8 1165.08,638.4 1171.43,639.0" stroke="#000" stroke-width="2.1"/>
</g>
<rect x="141.10" y="21.50" width="1089.80" height="617.80" fill="none" stroke="#000" stroke-width="2.30"/>
<line x1="343.7" y1="639.3" x2="343.7" y2="630.3" stroke="#000" stroke-width="2.00"/>
<line x1="445.9" y1="639.3" x2="445.9" y2="630.3" stroke="#000" stroke-width="2.00"/>
<line x1="646.7" y1="639.3" x2="646.7" y2="630.3" stroke="#000" stroke-width="2.00"/>
<line x1="748.8" y1="639.3" x2="748.8" y2="630.3" stroke="#000" stroke-width="2.00"/>
<line x1="848.9" y1="639.3" x2="848.9" y2="630.3" stroke="#000" stroke-width="2.00"/>
<line x1="950.5" y1="639.3" x2="950.5" y2="630.3" stroke="#000" stroke-width="2.00"/>
<line x1="1056.5" y1="639.3" x2="1056.5" y2="630.3" stroke="#000" stroke-width="2.00"/>
<line x1="1152.2" y1="639.3" x2="1152.2" y2="630.3" stroke="#000" stroke-width="2.00"/>
<line x1="230.8" y1="321.1" x2="261.4" y2="459.0" stroke="#000" stroke-width="2.40"/>
<line x1="495.4" y1="119.1" x2="478.9" y2="234.6" stroke="#000" stroke-width="2.40"/><polygon points="476.2,253.4 472.2,231.6 486.1,233.6" fill="#000"/>
<line x1="637.2" y1="174.8" x2="685.8" y2="204.9" stroke="#000" stroke-width="2.40"/><polygon points="702.0,214.9 680.5,209.8 687.8,197.9" fill="#000"/>
<line x1="947.3" y1="166.5" x2="911.3" y2="248.9" stroke="#000" stroke-width="2.40"/><polygon points="903.7,266.3 905.7,244.3 918.5,249.9" fill="#000"/>
<g font-family="'Liberation Serif', 'Noto Serif CJK SC', serif" fill="#000">
<text transform="translate(125.80,650.00) scale(0.94,1)" font-size="36.7" text-anchor="end">0</text>
<text transform="translate(125.30,587.99) scale(0.94,1)" font-size="36.7" text-anchor="end">0.1</text>
<text transform="translate(125.30,525.98) scale(0.94,1)" font-size="36.7" text-anchor="end">0.2</text>
<text transform="translate(125.30,463.97) scale(0.94,1)" font-size="36.7" text-anchor="end">0.3</text>
<text transform="translate(125.30,401.96) scale(0.94,1)" font-size="36.7" text-anchor="end">0.4</text>
<text transform="translate(125.30,339.95) scale(0.94,1)" font-size="36.7" text-anchor="end">0.5</text>
<text transform="translate(125.30,277.94) scale(0.94,1)" font-size="36.7" text-anchor="end">0.6</text>
<text transform="translate(125.30,215.93) scale(0.94,1)" font-size="36.7" text-anchor="end">0.7</text>
<text transform="translate(125.30,153.92) scale(0.94,1)" font-size="36.7" text-anchor="end">0.8</text>
<text transform="translate(125.30,91.91) scale(0.94,1)" font-size="36.7" text-anchor="end">0.9</text>
<text transform="translate(125.30,29.90) scale(0.94,1)" font-size="36.7" text-anchor="end">1.0</text>
<text transform="translate(139.10,684.50) scale(0.965,1)" font-size="36.7" text-anchor="middle">240</text>
<text transform="translate(240.49,684.50) scale(0.965,1)" font-size="36.7" text-anchor="middle">290</text>
<text transform="translate(341.88,684.50) scale(0.965,1)" font-size="36.7" text-anchor="middle">340</text>
<text transform="translate(443.27,684.50) scale(0.965,1)" font-size="36.7" text-anchor="middle">390</text>
<text transform="translate(544.66,684.50) scale(0.965,1)" font-size="36.7" text-anchor="middle">440</text>
<text transform="translate(646.05,684.50) scale(0.965,1)" font-size="36.7" text-anchor="middle">490</text>
<text transform="translate(747.44,684.50) scale(0.965,1)" font-size="36.7" text-anchor="middle">540</text>
<text transform="translate(848.83,684.50) scale(0.965,1)" font-size="36.7" text-anchor="middle">590</text>
<text transform="translate(950.22,684.50) scale(0.965,1)" font-size="36.7" text-anchor="middle">640</text>
<text transform="translate(1051.21,684.50) scale(0.965,1)" font-size="36.7" text-anchor="middle">690</text>
<text transform="translate(1153.00,684.50) scale(0.965,1)" font-size="36.7" text-anchor="middle">740</text>
<text transform="translate(165.20,303.80) rotate(0) scale(1.042,1)" font-size="34">昆虫视觉</text>
<text transform="translate(439.70,100.30) rotate(0) scale(1.04,1)" font-size="34">捕虫用黑光灯</text>
<text transform="translate(538.90,168.30) rotate(0) scale(1.042,1)" font-size="34">人类视觉</text>
<text transform="translate(918.00,157.80) rotate(0) scale(1.042,1)" font-size="34">防蛾灯</text>
<text transform="translate(38.20,326.35) rotate(-90) scale(1.02,1)" font-size="34.3">相对值</text>
<text x="553.2" y="735.8" font-size="34.6">波长</text><text x="601.9" y="735.0" font-size="34">（</text><text transform="translate(640.9,733.8) scale(1.06,1)" font-size="33.5">nm</text><text x="690.8" y="735.0" font-size="34">）</text>
</g>
</svg>
</body>
</html>
